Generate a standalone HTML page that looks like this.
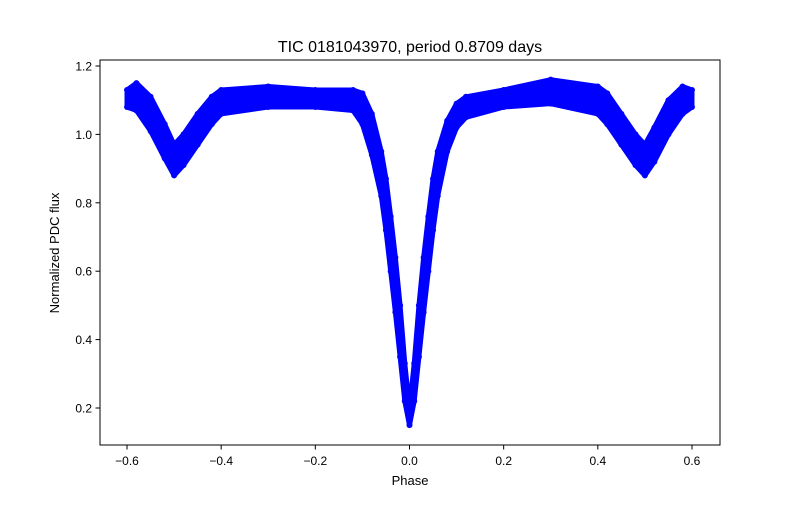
<!DOCTYPE html>
<html><head><meta charset="utf-8"><style>
body{margin:0;background:#fff}
svg{font-family:"Liberation Sans","DejaVu Sans",sans-serif}
</style></head><body>
<svg id="chart" width="800" height="500" viewBox="0 0 800 500" xmlns="http://www.w3.org/2000/svg">
<rect width="800" height="500" fill="#fff"/>
<g id="marks"></g>
<rect x="100" y="60" width="620" height="385" fill="none" stroke="#000" stroke-width="1"/>
<g id="xticks"></g>
<g id="yticks"></g>
<text x="410" y="52" font-size="16" text-anchor="middle">TIC 0181043970, period 0.8709 days</text>
<text x="410" y="485" font-size="13" text-anchor="middle">Phase</text>
<text x="59" y="253" font-size="13" text-anchor="middle" transform="rotate(-90 59 253)">Normalized PDC flux</text>
</svg>
<script>
const phases = [-0.6,-0.58,-0.55,-0.52,-0.5,-0.48,-0.45,-0.42,-0.4,-0.3,-0.2,-0.12,-0.1,-0.08,-0.06,-0.05,-0.04,-0.03,-0.02,-0.01,0,0.01,0.02,0.03,0.04,0.05,0.06,0.08,0.1,0.12,0.2,0.3,0.4,0.42,0.45,0.48,0.5,0.52,0.55,0.58,0.6];
const fluxUpper = [1.13,1.15,1.11,1.03,0.97,1.00,1.06,1.11,1.13,1.14,1.13,1.13,1.12,1.06,0.95,0.87,0.76,0.64,0.50,0.33,0.20,0.33,0.50,0.64,0.76,0.87,0.95,1.04,1.09,1.11,1.13,1.16,1.14,1.12,1.06,1.00,0.97,1.02,1.10,1.14,1.13];
const fluxLower = [1.08,1.07,1.01,0.93,0.88,0.91,0.97,1.03,1.06,1.08,1.08,1.07,1.03,0.94,0.82,0.72,0.60,0.48,0.35,0.22,0.15,0.22,0.35,0.48,0.60,0.72,0.82,0.95,1.02,1.05,1.08,1.09,1.06,1.03,0.97,0.91,0.88,0.92,1.00,1.06,1.08];
const xTicks = [-0.6,-0.4,-0.2,0,0.2,0.4,0.6];
const xTickLabels = ["−0.6","−0.4","−0.2","0.0","0.2","0.4","0.6"];
const yTicks = [0.2,0.4,0.6,0.8,1.0,1.2];
const yTickLabels = ["0.2","0.4","0.6","0.8","1.0","1.2"];
const X = p => 409.5 + p*470.8;
const Y = f => 66 + (1.2-f)*342;
const NS="http://www.w3.org/2000/svg";
const marks=document.getElementById('marks');
let pts=phases.map((p,i)=>X(p)+','+Y(fluxUpper[i]));
for(let i=phases.length-1;i>=0;i--) pts.push(X(phases[i])+','+Y(fluxLower[i]));
const poly=document.createElementNS(NS,'polygon');


poly.setAttribute('points',pts.join(' '));
poly.setAttribute('fill','#0000ff');poly.setAttribute('stroke','#0000ff');
poly.setAttribute('stroke-width','5');poly.setAttribute('stroke-linejoin','round');
marks.appendChild(poly);
phases.forEach((p,i)=>{[fluxUpper[i],fluxLower[i]].forEach(f=>{
 const c=document.createElementNS(NS,'circle');
 
 
 c.setAttribute('cx',X(p));c.setAttribute('cy',Y(f));c.setAttribute('r','3');c.setAttribute('fill','#0000ff');
 marks.appendChild(c);});});
const xg=document.getElementById('xticks');
xTicks.forEach((t,i)=>{
 const l=document.createElementNS(NS,'line');
 
 
 l.setAttribute('x1',X(t));l.setAttribute('x2',X(t));l.setAttribute('y1',445);l.setAttribute('y2',449.5);l.setAttribute('stroke','#000');
 xg.appendChild(l);
 const tx=document.createElementNS(NS,'text');
 
 
 tx.setAttribute('x',X(t));tx.setAttribute('y',465);tx.setAttribute('font-size','12');tx.setAttribute('text-anchor','middle');
 tx.textContent=xTickLabels[i];xg.appendChild(tx);});
const yg=document.getElementById('yticks');
yTicks.forEach((t,i)=>{
 const l=document.createElementNS(NS,'line');
 
 
 l.setAttribute('x1',95.5);l.setAttribute('x2',100);l.setAttribute('y1',Y(t));l.setAttribute('y2',Y(t));l.setAttribute('stroke','#000');
 yg.appendChild(l);
 const tx=document.createElementNS(NS,'text');
 
 
 tx.setAttribute('x',92);tx.setAttribute('y',Y(t)+4.5);tx.setAttribute('font-size','12');tx.setAttribute('text-anchor','end');
 tx.textContent=yTickLabels[i];yg.appendChild(tx);});
</script>
</body></html>
